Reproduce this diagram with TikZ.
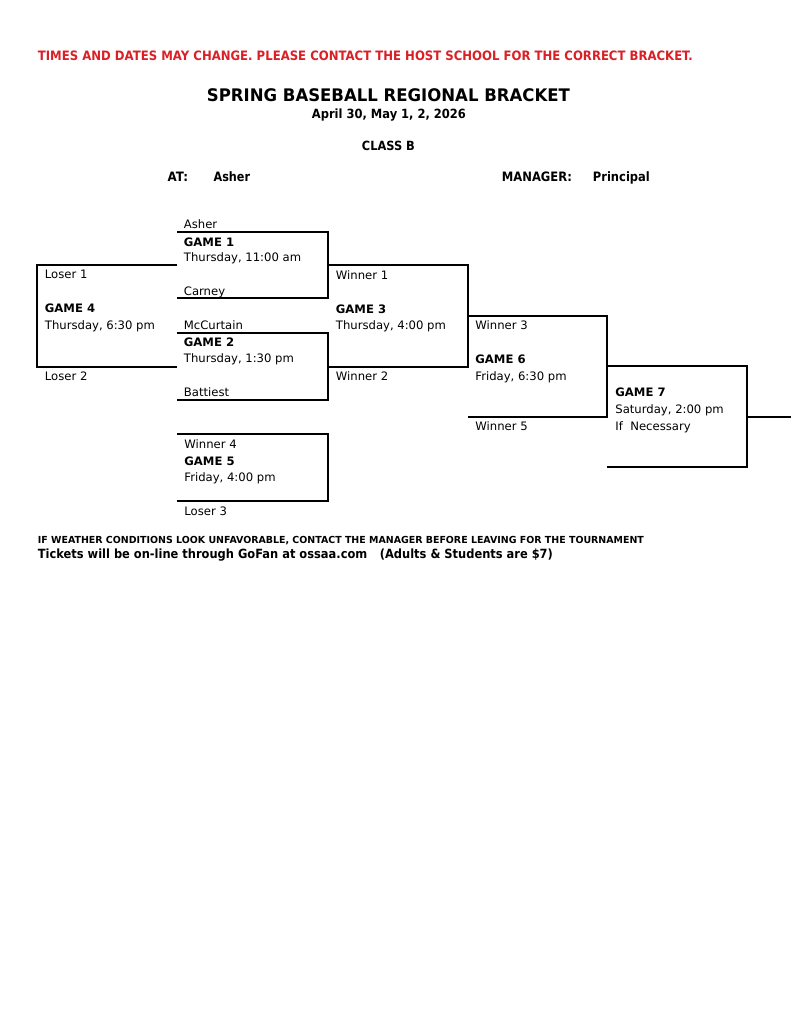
\documentclass[tikz,border=0pt]{standalone}
\usepackage{fontspec}
\setmainfont{DejaVu Sans}
\usepackage{graphicx}
\definecolor{warnred}{RGB}{218,32,38}
\newlength{\pxunit}
\setlength{\pxunit}{0.7734pt}
\newcommand{\fitto}[2]{\resizebox{#1\pxunit}{\height}{#2}}

\begin{document}
\begin{tikzpicture}[x=\pxunit, y=-\pxunit, line width=1.4pt,
  txt/.style={anchor=base west, inner sep=0pt, font=\fontsize{9}{11}\selectfont},
  gm/.style={txt, font=\fontsize{9}{11}\selectfont\bfseries},
  head/.style={anchor=base west, inner sep=0pt}]
		\useasboundingbox (0,0) rectangle (791,1024);
		% heading
		\node (warn) [head, text=warnred, font=\fontsize{10}{12}\selectfont\bfseries] at (37,60)
		{\fitto{655}{TIMES AND DATES MAY CHANGE. PLEASE CONTACT THE HOST SCHOOL FOR THE CORRECT BRACKET.}};
		\node (title) [head, font=\fontsize{13.4}{16}\selectfont\bfseries] at (206,101.7) {\fitto{363}{SPRING BASEBALL REGIONAL BRACKET}};
		\node (dates) [head, font=\fontsize{9.8}{11}\selectfont\bfseries] at (311,118.5) {\fitto{154}{April 30, May 1, 2, 2026}};
		\node (class) [head, font=\fontsize{9.8}{11}\selectfont\bfseries] at (361,150.7) {\fitto{53}{CLASS B}};
		\node (at) [head, font=\fontsize{10}{12}\selectfont\bfseries] at (166.7,181.7) {\fitto{20.5}{AT:}};
		\node (site) [head, font=\fontsize{10}{12}\selectfont\bfseries] at (212.7,181.7) {\fitto{36.5}{Asher}};
		\node (mgr) [head, font=\fontsize{10}{12}\selectfont\bfseries] at (501,181.7) {\fitto{70}{MANAGER:}};
		\node (mgrname) [head, font=\fontsize{10}{12}\selectfont\bfseries] at (592,181.7) {\fitto{57}{Principal}};

		% bracket lines
		\coordinate (g1nw) at (177,232); \coordinate (g1se) at (328,298);
		\coordinate (g2nw) at (177,333); \coordinate (g2se) at (328,400);
		\coordinate (g4ne) at (177,265); \coordinate (g4sw) at (37,367);
		\coordinate (g3nw) at (328,265); \coordinate (g3se) at (468,367);
		\coordinate (g6nw) at (468,316); \coordinate (g6se) at (607,417);
		\coordinate (g7nw) at (607,366); \coordinate (g7se) at (747,467);
		\coordinate (g5nw) at (177,434); \coordinate (g5se) at (328,501);
		\coordinate (champ) at (791,417);
		\draw (g1nw) -| (g1se) -- (g1nw |- g1se);
		\draw (g2nw) -| (g2se) -- (g2nw |- g2se);
		\draw (g4ne) -| (g4sw) -- (g4ne |- g4sw);
		\draw (g3nw) -| (g3se) -- (g3nw |- g3se);
		\draw (g6nw) -| (g6se) -- (g6nw |- g6se);
		\draw (g7nw) -| (g7se) -- (g7nw |- g7se);
		\draw (g5nw) -| (g5se) -- (g5nw |- g5se);
		\draw (g7se |- champ) -- (champ);

		% game 1
		\node (asher) [txt] at (183,228.3) {Asher};
		\node (g1) [gm] at (183,246.7) {GAME 1};
		\node (g1time) [txt] at (183,261.7) {Thursday, 11:00 am};
		\node (carney) [txt] at (183,295) {Carney};
		% game 2
		\node (mccurtain) [txt] at (183,329.3) {McCurtain};
		\node (g2) [gm] at (183,346.7) {GAME 2};
		\node (g2time) [txt] at (183,362.7) {Thursday, 1:30 pm};
		\node (battiest) [txt] at (183,396.7) {Battiest};
		% game 4
		\node (loser1) [txt] at (44,278.3) {Loser 1};
		\node (g4) [gm] at (44,312.7) {GAME 4};
		\node (g4time) [txt] at (44,329.3) {Thursday, 6:30 pm};
		\node (loser2) [txt] at (44,380) {Loser 2};
		% game 3
		\node (winner1) [txt] at (335,279) {Winner 1};
		\node (g3) [gm] at (335,313) {GAME 3};
		\node (g3time) [txt] at (335,329.6) {Thursday, 4:00 pm};
		\node (winner2) [txt] at (335,380) {Winner 2};
		% game 6
		\node (winner3) [txt] at (474.5,329.6) {Winner 3};
		\node (g6) [gm] at (474.5,363) {GAME 6};
		\node (g6time) [txt] at (474.5,380) {Friday, 6:30 pm};
		\node (winner5) [txt] at (474.5,430.5) {Winner 5};
		% game 7
		\node (g7) [gm] at (614.5,396) {GAME 7};
		\node (g7time) [txt] at (614.5,413.3) {Saturday, 2:00 pm};
		\node (g7note) [txt] at (614.5,430.5) {If\ \ Necessary};
		% game 5
		\node (winner4) [txt] at (183.5,448.3) {Winner 4};
		\node (g5) [gm] at (183.5,465) {GAME 5};
		\node (g5time) [txt] at (183.5,481.7) {Friday, 4:00 pm};
		\node (loser3) [txt] at (183.5,515) {Loser 3};

		% notes
		\node (weather) [head, font=\fontsize{7.5}{8}\selectfont\bfseries] at (37,543.5)
		{\fitto{606}{IF WEATHER CONDITIONS LOOK UNFAVORABLE, CONTACT THE MANAGER BEFORE LEAVING FOR THE TOURNAMENT}};
		\node (tickets) [head, font=\fontsize{9.8}{11}\selectfont\bfseries] at (37,558)
		{\fitto{515}{Tickets will be on-line through GoFan at ossaa.com\hspace{1.1em}(Adults \& Students are \$7)}};
	\end{tikzpicture}
\end{document}
